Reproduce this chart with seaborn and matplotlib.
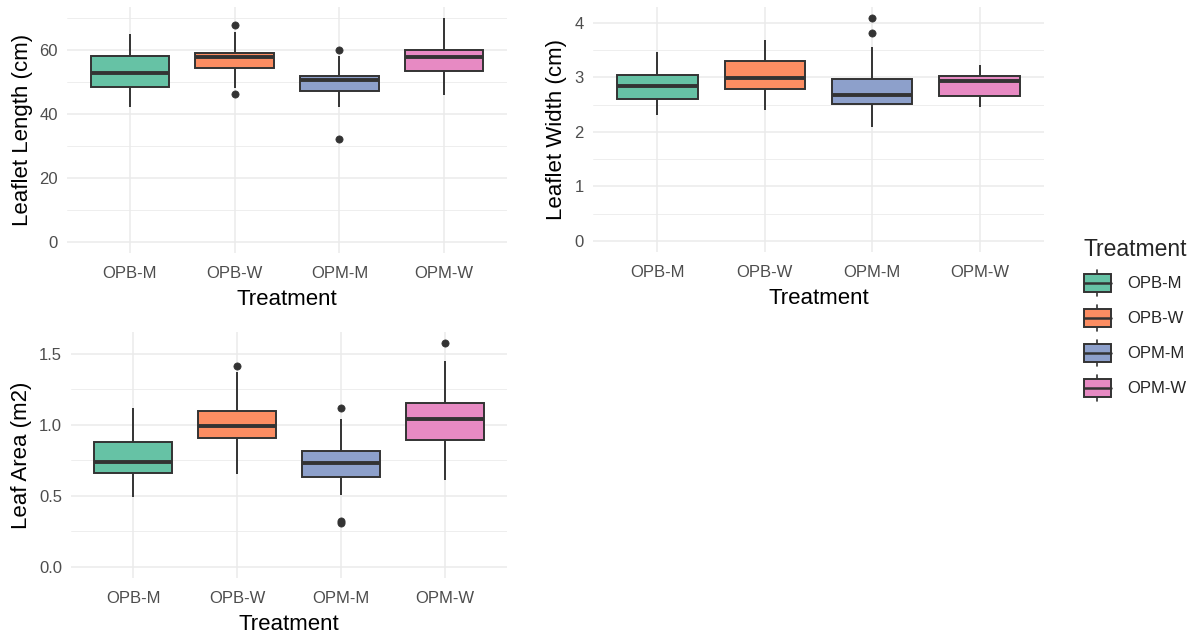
import numpy as np
import pandas as pd
import matplotlib
matplotlib.use("Agg")
import matplotlib.pyplot as plt
import seaborn as sns
from matplotlib.patches import Rectangle, Patch
from matplotlib.lines import Line2D
from matplotlib.legend_handler import HandlerBase

# ---------------- data ----------------
treatments = ["OPB-M", "OPB-W", "OPM-M", "OPM-W"]
palette = ["#66C2A5", "#FC8D62", "#8DA0CB", "#E78AC3"]

# Leaflet length (cm)
length_opb_m = [42.2, 48.4, 48.4, 48.4, 52.7, 52.7, 52.7, 58.0, 58.0, 58.0, 65.1]
length_opb_w = [46.1, 48.2, 54.2, 54.2, 54.2, 57.7, 57.7, 57.7, 59.1, 59.1, 59.1, 65.6, 67.7]
length_opm_m = [32.1, 42.2, 47.2, 47.2, 47.2, 50.5, 50.5, 50.5, 51.8, 51.8, 51.8, 58.2, 60.0]
length_opm_w = [45.9, 53.3, 53.3, 53.3, 57.9, 57.9, 57.9, 60.0, 60.0, 60.0, 69.9]

# Leaflet width (cm)
width_opb_m = [2.32, 2.61, 2.61, 2.61, 2.84, 2.84, 2.84, 3.05, 3.05, 3.05, 3.46]
width_opb_w = [2.40, 2.78, 2.78, 2.78, 2.99, 2.99, 2.99, 3.31, 3.31, 3.31, 3.68]
width_opm_m = [2.09, 2.52, 2.52, 2.52, 2.68, 2.68, 2.68, 2.97, 2.97, 2.97, 3.56, 3.81, 4.09]
width_opm_w = [2.46, 2.66, 2.66, 2.66, 2.94, 2.94, 2.94, 3.02, 3.02, 3.02, 3.23]

# Leaf area (m2)
area_opb_m = [0.492, 0.658, 0.658, 0.658, 0.738, 0.738, 0.738, 0.880, 0.880, 0.880, 1.117]
area_opb_w = [0.655, 0.906, 0.906, 0.906, 0.989, 0.989, 0.989, 1.100, 1.100, 1.100, 1.372, 1.412]
area_opm_m = [0.310, 0.320, 0.504, 0.636, 0.636, 0.636, 0.729, 0.729, 0.729,
              0.816, 0.816, 0.816, 1.041, 1.121]
area_opm_w = [0.610, 0.894, 0.894, 0.894, 1.043, 1.043, 1.043, 1.152, 1.152, 1.152, 1.448, 1.576]

y_titles = ["Leaflet Length (cm)", "Leaflet Width (cm)", "Leaf Area (m2)"]
x_title = "Treatment"
legend_title = "Treatment"


def make_df(groups):
    rows = []
    for t, vals in zip(treatments, groups):
        for v in vals:
            rows.append((t, v))
    return pd.DataFrame(rows, columns=["Treatment", "value"])


df_len = make_df([length_opb_m, length_opb_w, length_opm_m, length_opm_w])
df_wid = make_df([width_opb_m, width_opb_w, width_opm_m, width_opm_w])
df_area = make_df([area_opb_m, area_opb_w, area_opm_m, area_opm_w])

# ---------------- style ----------------
sns.set_theme(style="white")
plt.rcParams["font.family"] = ["Liberation Sans", "DejaVu Sans"]

W, H = 1198, 637
fig = plt.figure(figsize=(W / 100, H / 100), dpi=100)
fig.patch.set_facecolor("white")


def px_axes(left, top, right, bottom):
    return fig.add_axes([left / W, 1 - bottom / H, (right - left) / W, (bottom - top) / H])


EDGE = "#333333"
GRID = "#EBEBEB"


def draw_panel(ax, df, ytitle, major, minor, fmt, ylab_x):
    sns.boxplot(data=df, x="Treatment", y="value", hue="Treatment", order=treatments,
                hue_order=treatments, palette=palette, saturation=1, width=0.75,
                linecolor=EDGE, linewidth=1.4, whis=1.5, showcaps=False, legend=False,
                ax=ax,
                medianprops=dict(color=EDGE, linewidth=2.8),
                flierprops=dict(marker="o", markersize=5.2, markerfacecolor=EDGE,
                                markeredgecolor=EDGE, markeredgewidth=0.5))
    vmax = df["value"].max()
    lo, hi = 0.0, vmax
    rng = hi - lo
    ax.set_ylim(lo - 0.05 * rng, hi + 0.05 * rng)
    ax.set_xlim(-0.6, len(treatments) - 0.4)
    ax.set_yticks(major)
    ax.set_yticklabels([fmt.format(v) for v in major])
    ax.set_yticks(minor, minor=True)
    ax.set_xticks(range(len(treatments)))
    ax.set_xticklabels(treatments)
    ax.set_axisbelow(True)
    ax.grid(which="major", color=GRID, linewidth=1.1)
    ax.grid(which="minor", axis="y", color=GRID, linewidth=0.6)
    for s in ax.spines.values():
        s.set_visible(False)
    ax.tick_params(which="both", length=0, labelsize=12, labelcolor="#4D4D4D")
    ax.tick_params(axis="x", pad=9.2)
    ax.tick_params(axis="y", pad=6.5)
    ax.set_xlabel(x_title, fontsize=16, color="black")
    ax.set_ylabel(ytitle, fontsize=16, color="black")
    ax.xaxis.set_label_coords(0.5, -0.148)
    ax.yaxis.set_label_coords(ylab_x, 0.5)


ax1 = px_axes(67, 7, 507, 253)
draw_panel(ax1, df_len, y_titles[0], [0, 20, 40, 60], [10, 30, 50, 70], "{:.0f}", -0.077)

ax2 = px_axes(593, 7, 1044, 252)
draw_panel(ax2, df_wid, y_titles[1], [0, 1, 2, 3, 4], [0.5, 1.5, 2.5, 3.5], "{:.0f}", -0.058)

ax3 = px_axes(71, 332, 507, 578)
draw_panel(ax3, df_area, y_titles[2], [0.0, 0.5, 1.0, 1.5], [0.25, 0.75, 1.25], "{:.1f}", -0.090)


# ---------------- legend with boxplot glyph keys ----------------
class BoxKey(HandlerBase):
    def create_artists(self, legend, orig_handle, xdescent, ydescent, width, height,
                       fontsize, trans):
        fc = orig_handle.get_facecolor()
        x0, y0 = -xdescent, -ydescent
        bh = height * 0.70
        by = y0 + (height - bh) / 2
        whisk_top = Line2D([x0 + width / 2] * 2, [by + bh, y0 + height], color=EDGE,
                           lw=1.2, transform=trans)
        whisk_bot = Line2D([x0 + width / 2] * 2, [y0, by], color=EDGE, lw=1.2,
                           transform=trans)
        rect = Rectangle((x0, by), width, bh, facecolor=fc, edgecolor=EDGE, lw=1.4,
                         transform=trans)
        med = Line2D([x0, x0 + width], [by + bh / 2] * 2, color=EDGE, lw=1.8,
                     transform=trans)
        return [whisk_top, whisk_bot, rect, med]


handles = [Patch(facecolor=c, edgecolor=EDGE) for c in palette]
leg = fig.legend(handles, treatments, title=legend_title, loc="upper left",
                 bbox_to_anchor=(1084 / W, 1 - 238 / H), frameon=False,
                 handler_map={Patch: BoxKey()}, fontsize=12, title_fontsize=16.5,
                 handlelength=1.6, handleheight=2.02, labelspacing=0.54,
                 handletextpad=1.0, borderpad=0, borderaxespad=0, alignment="left")

fig.savefig("out.png", dpi=100, facecolor="white")
